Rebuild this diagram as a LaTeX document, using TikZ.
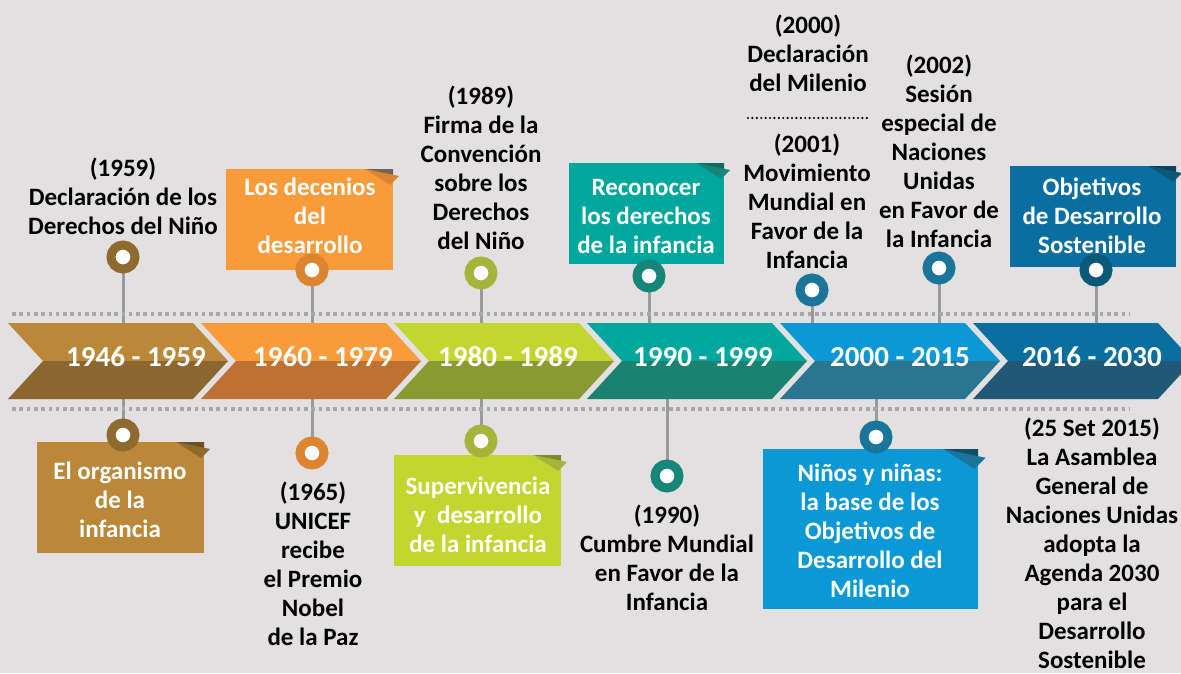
\documentclass[tikz,border=0pt]{standalone}
\usepackage{fontspec}
\setmainfont{Carlito}
\definecolor{bgc}{HTML}{E2E0E1}
\definecolor{stemgray}{HTML}{9A9A9C}
\definecolor{dotgray}{HTML}{A8A7A8}
\definecolor{cAt}{HTML}{BB8739}\definecolor{cAb}{HTML}{8B6630}\definecolor{cAr}{HTML}{8E6A2F}\definecolor{cAs}{HTML}{6B5020}
\definecolor{cBt}{HTML}{F99B3A}\definecolor{cBb}{HTML}{BD7133}\definecolor{cBr}{HTML}{DB8530}\definecolor{cBs}{HTML}{6E6458}
\definecolor{cCt}{HTML}{C1D72F}\definecolor{cCb}{HTML}{8A9A33}\definecolor{cCr}{HTML}{A5B43A}\definecolor{cCs}{HTML}{7C8A2A}
\definecolor{cDt}{HTML}{00A79D}\definecolor{cDb}{HTML}{1B8170}\definecolor{cDr}{HTML}{168679}\definecolor{cDs}{HTML}{0E6B60}
\definecolor{cEt}{HTML}{0A99D6}\definecolor{cEb}{HTML}{2A7592}\definecolor{cEr}{HTML}{1B7499}\definecolor{cEs}{HTML}{0E4E6A}
\definecolor{cFt}{HTML}{0A6EA0}\definecolor{cFb}{HTML}{215875}\definecolor{cFr}{HTML}{0B5878}\definecolor{cFs}{HTML}{08425C}
\pgfdeclarelayer{bglayer}\pgfdeclarelayer{stemlayer}
\pgfsetlayers{bglayer,stemlayer,main}
\tikzset{
  lbl/.style={font=\fontsize{25}{29}\selectfont\bfseries, align=center, text=black, inner sep=0pt},
  boxtxt/.style={font=\fontsize{25}{29}\selectfont\bfseries, align=center, text=white, inner sep=0pt},
  yr/.style={font=\fontsize{29}{32}\selectfont\bfseries, text=white, inner sep=0pt},
  stem/.style={draw=stemgray, line width=3pt},
  ring/.style={circle, draw=#1, line width=9pt, fill=white, minimum size=24pt, inner sep=0pt},
  dotline/.style={draw=dotgray, line width=3.6pt, dash pattern=on 3.6pt off 3.7pt},
}
\newcommand{\chevron}[3]{%
  \fill[#2] (#1,323) -- (#1+185,323) -- (#1+220,361) -- (#1+35,361) -- cycle;
  \fill[#3] (#1+35,361) -- (#1+220,361) -- (#1+185,399) -- (#1,399) -- cycle;}
\newcommand{\card}[6]{% name, x1,y1,x2,y2, color
  \fill[#6] (#2,#3) rectangle (#4,#5);
  \coordinate (#1) at ({(#2+#4)/2},{(#3+#5)/2});}
\newcommand{\fold}[5]{% x2, y1, size, shadow, flap
  \fill[#4] (#1-#3,#2) -- (#1,#2) -- (#1,#2+0.22*#3) -- cycle;
  \fill[#5] (#1-#3,#2) -- (#1+0.22*#3,#2+0.25*#3) -- (#1-0.1*#3,#2+0.57*#3) -- cycle;}
\begin{document}
\begin{tikzpicture}[x=1pt,y=-1pt]
\begin{pgfonlayer}{bglayer}
\fill[bgc] (0,0) rectangle (1181,673);
\end{pgfonlayer}
\useasboundingbox (0,0) rectangle (1181,673);
\clip (0,0) rectangle (1181,673);
\coordinate (ctop) at (0,323);
\coordinate (cbot) at (0,399);
% dotted guide lines
\draw[dotline] (12,314) -- (1130,314);
\draw[dotline] (12,409) -- (1130,409);
% chevrons
\chevron{8}{cAt}{cAb}
\chevron{201}{cBt}{cBb}
\chevron{394}{cCt}{cCb}
\chevron{587}{cDt}{cDb}
\chevron{780}{cEt}{cEb}
\chevron{973}{cFt}{cFb}
\node[yr] (y1) at (136,357) {1946 - 1959};
\node[yr] (y2) at (323,357) {1960 - 1979};
\node[yr] (y3) at (508,357) {1980 - 1989};
\node[yr] (y4) at (703,357) {1990 - 1999};
\node[yr] (y5) at (900,357) {2000 - 2015};
\node[yr] (y6) at (1092,357) {2016 - 2030};
% cards
\card{b1}{37}{442}{204}{553}{cAt}
\fold{204}{442}{28}{cAs}{cAr}
\card{b2}{226}{169}{393}{270}{cBt}
\fold{393}{169}{28}{cBs}{cBr}
\card{b3}{394}{455}{561}{566}{cCt}
\fold{561}{455}{28}{cCs}{cCr}
\card{b4}{569}{163}{724}{264}{cDt}
\fold{724}{163}{28}{cDs}{cDr}
\card{b5}{763}{449}{978}{609}{cEt}
\fold{978}{449}{35}{cEs}{cEr}
\card{b6}{1010}{166}{1176}{267}{cFt}
\fold{1176}{166}{28}{cFs}{cFr}
\node[boxtxt] (bt1) at (120,500) {El organismo\\de la\\infancia};
\node[boxtxt] (bt2) at (310,216) {Los decenios\\del\\desarrollo};
\node[boxtxt] (bt3) at (478,515) {Supervivencia\\y\ \ desarrollo\\de la infancia};
\node[boxtxt] (bt4) at (646,216) {Reconocer\\los derechos\\de la infancia};
\node[boxtxt] (bt5) at (870,531) {Niños y niñas:\\la base de los\\Objetivos de\\Desarrollo del\\Milenio};
\node[boxtxt] (bt6) at (1092,216) {Objetivos\\de Desarrollo\\Sostenible};
% rings
\node[ring=cAr] (u1) at (123,257) {};
\node[ring=cAr] (l1) at (123,435) {};
\node[ring=cBr] (u2) at (312,270) {};
\node[ring=cBr] (l2) at (312,453) {};
\node[ring=cCr] (u3) at (481,273) {};
\node[ring=cCr] (l3) at (481,441) {};
\node[ring=cDr] (u4) at (649,276) {};
\node[ring=cDr] (l4) at (667,476) {};
\node[ring=cEr] (u5) at (812,290) {};
\node[ring=cEr] (u5b) at (939,268) {};
\node[ring=cEr] (l5) at (876,437) {};
\node[ring=cFr] (u6) at (1096,270) {};
% stems
\begin{pgfonlayer}{stemlayer}
\foreach \n in {u1,u2,u3,u4,u5,u5b,u6} \draw[stem] (\n.center) -- (\n.center |- ctop);
\foreach \n in {l1,l2,l3,l4,l5} \draw[stem] (\n.center) -- (\n.center |- cbot);
\end{pgfonlayer}
% labels
\node[lbl] (t1) at (123,196) {(1959)\\Declaración de los\\Derechos del Niño};
\node[lbl] (t3) at (481,168) {(1989)\\Firma de la\\Convención\\sobre los\\Derechos\\del Niño};
\node[lbl] (t5a) at (808,53) {(2000)\\Declaración\\del Milenio};
\coordinate (sepL) at (748,118);
\coordinate (sepR) at (867,118);
\draw[black, line width=2.4pt, line cap=round, dash pattern=on 0pt off 4.4pt] (sepL) -- (sepR);
\node[lbl] (t5b) at (807,201) {(2001)\\Movimiento\\Mundial en\\Favor de la\\Infancia};
\node[lbl] (t5c) at (939,151) {(2002)\\Sesión\\especial de\\Naciones\\Unidas\\en Favor de\\la Infancia};
\node[lbl] (d2) at (313,564) {(1965)\\UNICEF\\recibe\\el Premio\\Nobel\\de la Paz};
\node[lbl] (d4) at (667,558) {(1990)\\Cumbre Mundial\\en Favor de la\\Infancia};
\node[lbl] (d6) at (1092,543) {(25 Set 2015)\\La Asamblea\\General de\\Naciones Unidas\\adopta la\\Agenda 2030\\para el\\Desarrollo\\Sostenible};
\end{tikzpicture}
\end{document}
